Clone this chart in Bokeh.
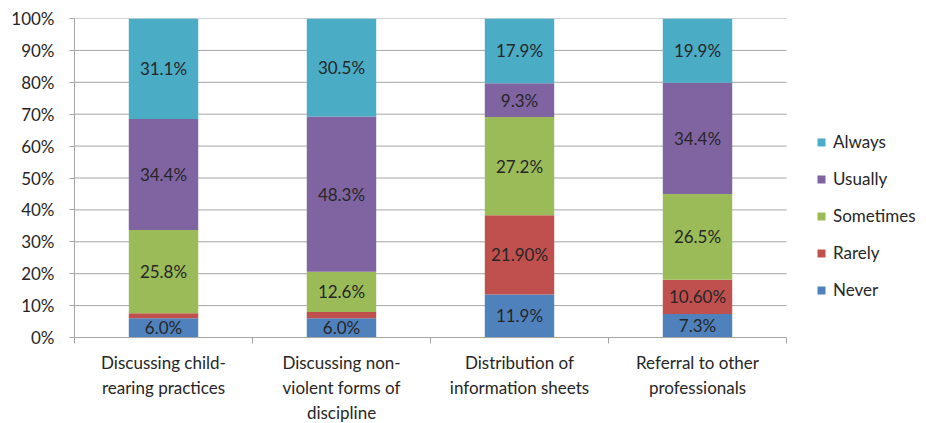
from bokeh.plotting import figure
from bokeh.models import ColumnDataSource, FixedTicker, Legend, LegendItem
from bokeh.core.properties import value
from bokeh.embed import file_html
from bokeh.resources import INLINE

categories = ["Discussing child-\nrearing practices",
              "Discussing non-\nviolent forms of\ndiscipline",
              "Distribution of\ninformation sheets",
              "Referral to other\nprofessionals"]
series = ["Never", "Rarely", "Sometimes", "Usually", "Always"]
never = [6.0, 6.0, 11.9, 7.3]
rarely = [1.5, 1.9, 21.9, 10.6]
sometimes = [25.8, 12.6, 27.2, 26.5]
usually = [34.4, 48.3, 9.3, 34.4]
always = [31.1, 30.5, 17.9, 19.9]
never_labels = ["6.0%", "6.0%", "11.9%", "7.3%"]
rarely_labels = ["", "", "21.90%", "10.60%"]
sometimes_labels = ["25.8%", "12.6%", "27.2%", "26.5%"]
usually_labels = ["34.4%", "48.3%", "9.3%", "34.4%"]
always_labels = ["31.1%", "30.5%", "17.9%", "19.9%"]
y_ticks = [0, 10, 20, 30, 40, 50, 60, 70, 80, 90, 100]
y_tick_labels = ["0%", "10%", "20%", "30%", "40%", "50%", "60%", "70%", "80%", "90%", "100%"]

colors = {"Never": "#4F81BD", "Rarely": "#C0504D", "Sometimes": "#9BBB59",
          "Usually": "#8064A2", "Always": "#4BACC6"}
values = {"Never": never, "Rarely": rarely, "Sometimes": sometimes,
          "Usually": usually, "Always": always}
labels = {"Never": never_labels, "Rarely": rarely_labels, "Sometimes": sometimes_labels,
          "Usually": usually_labels, "Always": always_labels}

FONT = "Lato"
FS = "17px"
TXT = "#262626"
GRID = "#A6A6A6"

n = len(categories)
xs = [i + 0.5 for i in range(n)]
totals = [sum(values[s][i] for s in series) for i in range(n)]

# plot area for bars is 712px wide; frame is extended to the right to host the legend
BAR_AREA = 712
LEGEND_AREA = 138
x_end = n * (BAR_AREA + LEGEND_AREA) / BAR_AREA

p = figure(frame_width=BAR_AREA + LEGEND_AREA, frame_height=319,
           x_range=(0, x_end), y_range=(0, 100),
           output_backend="svg", toolbar_location=None,
           min_border_left=74, min_border_top=18, min_border_bottom=86,
           min_border_right=0)
p.outline_line_color = None
p.background_fill_color = "white"

# horizontal gridlines limited to the category area
p.segment(x0=[0] * len(y_ticks), x1=[n] * len(y_ticks), y0=y_ticks, y1=y_ticks,
          line_color=GRID, line_width=1)

bottoms = [0.0] * n
renderers = {}
for s in series:
    pct = [values[s][i] / totals[i] * 100 for i in range(n)]
    tops = [bottoms[i] + pct[i] for i in range(n)]
    mids = [(bottoms[i] + tops[i]) / 2 for i in range(n)]
    src = ColumnDataSource(dict(x=xs, bottom=list(bottoms), top=tops, mid=mids, lab=labels[s]))
    r = p.vbar(x="x", width=0.39, bottom="bottom", top="top", source=src,
               fill_color=colors[s], line_color=None)
    renderers[s] = r
    p.text(x="x", y="mid", text="lab", source=src, text_align="center",
           text_baseline="middle", text_font=value(FONT), text_font_size=FS,
           text_color=TXT)
    bottoms = tops

# axes
p.xgrid.visible = False
p.ygrid.visible = False

p.yaxis.ticker = FixedTicker(ticks=y_ticks)
p.yaxis.major_label_overrides = {t: l for t, l in zip(y_ticks, y_tick_labels)}
p.yaxis.axis_line_color = GRID
p.yaxis.major_tick_line_color = GRID
p.yaxis.major_tick_out = 5
p.yaxis.major_tick_in = 0
p.yaxis.minor_tick_line_color = None
p.yaxis.major_label_text_font = FONT
p.yaxis.major_label_text_font_size = FS
p.yaxis.major_label_text_color = TXT
p.yaxis.major_label_standoff = 15

p.xaxis.ticker = FixedTicker(ticks=xs, minor_ticks=list(range(n + 1)))
p.xaxis.bounds = (0, n)
p.xaxis.major_label_overrides = {x: c for x, c in zip(xs, categories)}
p.xaxis.axis_line_color = GRID
p.xaxis.major_tick_line_color = None
p.xaxis.minor_tick_line_color = GRID
p.xaxis.minor_tick_out = 6
p.xaxis.minor_tick_in = 0
p.xaxis.major_label_text_font = FONT
p.xaxis.major_label_text_font_size = FS
p.xaxis.major_label_text_color = TXT
p.xaxis.major_label_text_line_height = 1.2
p.xaxis.major_label_standoff = 8

legend_order = ["Always", "Usually", "Sometimes", "Rarely", "Never"]
legend = Legend(items=[LegendItem(label=s, renderers=[renderers[s]]) for s in legend_order],
                location=(742, 37), orientation="vertical",
                glyph_width=10, glyph_height=10, label_height=20, spacing=16,
                label_standoff=7, padding=0, margin=0,
                border_line_color=None, background_fill_alpha=0,
                label_text_font=FONT, label_text_font_size=FS, label_text_color=TXT)
p.add_layout(legend)

open("out.html", "w").write(file_html(p, INLINE))
